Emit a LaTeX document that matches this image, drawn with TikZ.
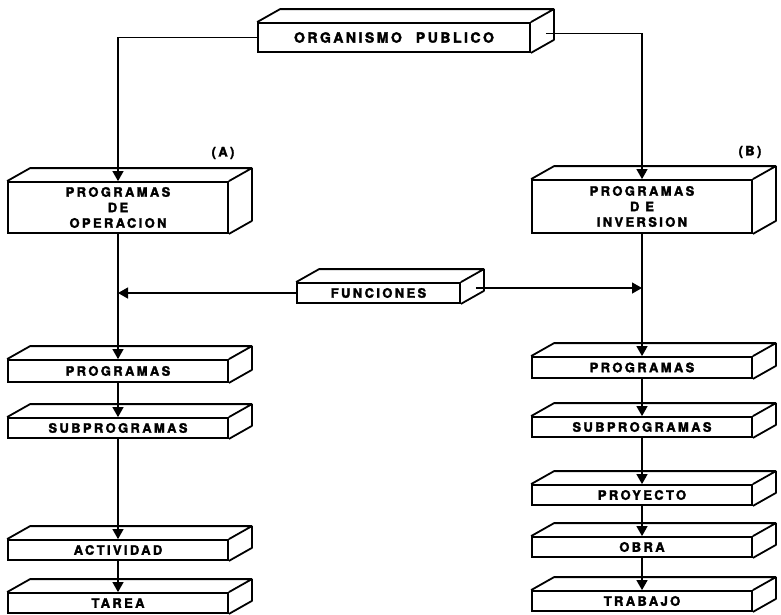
\documentclass[tikz,border=0pt]{standalone}
\usepackage{fontspec}
\usetikzlibrary{arrows.meta, positioning, calc}
\newfontfamily\blockfont{texgyreheros-bold.otf}[LetterSpace=18, FakeBold=2.2]
\tikzset{
    block/.style   ={rectangle, draw=black, line width=1.8pt, inner sep=0pt, minimum width=220pt, minimum height=20pt, text centered, align=center, font=\blockfont\fontsize{13}{15.5}\selectfont},
    face/.style    ={line width=1.8pt, line join=round},
    flowarrow/.style={-{Triangle[length=10pt, width=11pt]}, line width=1.3pt},
    tag/.style     ={font=\blockfont\fontsize{13}{15}\selectfont},
}

\begin{document}
\begin{tikzpicture}[x=1pt, y=-1pt]
        \useasboundingbox (0,0) rectangle (781,614);
        % top level
        \node[block, minimum width=272pt, minimum height=29pt, font=\blockfont\fontsize{14}{16}\selectfont] (org) at (394,37.5) {ORGANISMO\quad PUBLICO};
        \node[block, minimum height=51pt] (opA) at (118,207.5) {PROGRAMAS\\DE\\OPERACION};
        \node[block, minimum height=53pt] (inB) at (642,206.5) {PROGRAMAS\\D E\\INVERSION};
        \node[tag] (tagA) at (223,153) {(A)};
        \node[tag] (tagB) at (750,152) {(B)};
        \node[block, minimum width=163pt] (fun) at (378.5,293) {FUNCIONES};

        % column (A)
        \node[block, minimum height=22pt] (progA) at (118,371) {PROGRAMAS};
        \node[block] (subA) at (118,428) {SUBPROGRAMAS};
        \node[block] (act) at (118,550) {ACTIVIDAD};
        \node[block] (tarea) at (118,603) {TAREA};

        % column (B)
        \node[block, minimum height=21pt] (progB) at (642,367.5) {PROGRAMAS};
        \node[block] (subB) at (642,427) {SUBPROGRAMAS};
        \node[block] (proy) at (642,495) {PROYECTO};
        \node[block] (obra) at (642,547) {OBRA};
        \node[block] (trab) at (642,601) {TRABAJO};

        % depth of the blocks
        \foreach \n in {org,opA,inB,fun,progA,subA,act,tarea,progB,subB,proy,obra,trab}
            \draw[face] (\n.north west) -- ++(23,-13) -- ([shift={(23,-13)}]\n.north east)
                -- ([shift={(23,-13)}]\n.south east) -- (\n.south east)
                (\n.north east) -- ++(23,-13);

        \coordinate (orgside) at ([shift={(15,-4)}]org.east);
        \coordinate (funside) at ([shift={(15,-5)}]fun.east);

        \draw[flowarrow] (org.west) -| (opA.north);
        \draw[flowarrow] (orgside) -| (inB.north);
        \draw[flowarrow] (fun.west) -- (fun.west -| opA.south);
        \draw[flowarrow] (funside) -- (funside -| inB.south);

        \draw[flowarrow] (opA) -- (progA);
        \draw[flowarrow] (progA) -- (subA);
        \draw[flowarrow] (subA) -- (act);
        \draw[flowarrow] (act) -- (tarea);

        \draw[flowarrow] (inB) -- (progB);
        \draw[flowarrow] (progB) -- (subB);
        \draw[flowarrow] (subB) -- (proy);
        \draw[flowarrow] (proy) -- (obra);
        \draw[flowarrow] (obra) -- (trab);
    \end{tikzpicture}
\end{document}
